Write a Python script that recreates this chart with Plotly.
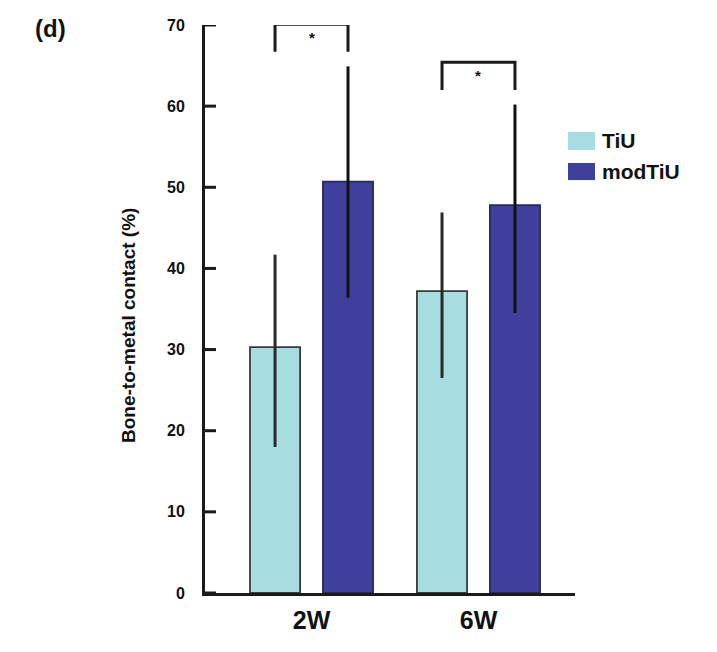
import plotly.graph_objects as go

categories = ["2W", "6W"]
series_names = ["TiU", "modTiU"]
tiu_values = [30.3, 37.2]
tiu_err_plus = [11.4, 9.7]
tiu_err_minus = [12.3, 10.7]
mod_values = [50.7, 47.8]
mod_err_plus = [14.2, 12.4]
mod_err_minus = [14.3, 13.3]
y_ticks = [0, 10, 20, 30, 40, 50, 60, 70]

C_TIU = "#A7DCE0"
C_MOD = "#3F3F9C"
BARGAP = 0.126
GROUPGAP = 0.313
FONT = "Liberation Sans, Arial, sans-serif"
PLOT_W = 717 - 205 - 142

fig = go.Figure()
for name, vals, ep, em, col, lc, ec in [
    (series_names[0], tiu_values, tiu_err_plus, tiu_err_minus, C_TIU, "#3a3a3a", "#2a2a2a"),
    (series_names[1], mod_values, mod_err_plus, mod_err_minus, C_MOD, "#2a2a5a", "#111111"),
]:
    fig.add_trace(go.Bar(
        x=categories, y=vals, name=name,
        marker=dict(color=col, line=dict(color=lc, width=1.8)),
        error_y=dict(type="data", array=ep, arrayminus=em, symmetric=False,
                     thickness=3, width=0, color=ec),
        showlegend=False,
    ))

slot = (1 - BARGAP) / 2
shapes = []
annotations = []
for i, cat in enumerate(categories):
    x0 = i - slot / 2
    x1 = i + slot / 2
    top = max(tiu_values[i] + tiu_err_plus[i], mod_values[i] + mod_err_plus[i]) + 5.2
    leg = top - 3.4
    shapes.append(dict(type="path", xref="x", yref="y",
                       path=f"M {x0},{leg} L {x0},{top} L {x1},{top} L {x1},{leg}",
                       line=dict(color="#1a1a1a", width=3)))
    annotations.append(dict(x=i, y=top - 1.6, xref="x", yref="y", text="<b>*</b>",
                            showarrow=False, font=dict(size=15, color="#111", family=FONT),
                            yanchor="middle"))

# inward tick stubs on the y axis
for t in y_ticks:
    shapes.append(dict(type="line", xref="paper", yref="y", x0=0, x1=11 / PLOT_W,
                       y0=t, y1=t, line=dict(color="#1a1a1a", width=3), layer="above"))

# legend (manual, large swatches)
leg_items = [(series_names[0], C_TIU, 0.8116, 0.780), (series_names[1], C_MOD, 0.757, 0.727)]
for name, col, ya, yb in leg_items:
    shapes.append(dict(type="rect", xref="paper", yref="paper", x0=0.981, x1=1.054,
                       y0=yb, y1=ya, fillcolor=col, line=dict(width=0)))
    annotations.append(dict(x=1.068, y=(ya + yb) / 2, xref="paper", yref="paper",
                            text=f"<b>{name}</b>", showarrow=False, xanchor="left",
                            yanchor="middle", font=dict(size=21, color="#111", family=FONT)))

annotations.append(dict(x=0, y=(593 - 28) / 568, xref="paper", yref="paper", xshift=-155,
                        text="<b>(d)</b>", showarrow=False, xanchor="center", yanchor="middle",
                        font=dict(size=24, color="#111", family=FONT)))
annotations.append(dict(x=0, y=(593 - 326) / 568, xref="paper", yref="paper", xshift=-77,
                        text="<b>Bone-to-metal contact (%)</b>", textangle=-90,
                        showarrow=False, xanchor="center", yanchor="middle",
                        font=dict(size=19, color="#111", family=FONT)))

fig.update_layout(
    width=717, height=652,
    margin=dict(l=205, r=142, t=25, b=59),
    paper_bgcolor="white", plot_bgcolor="white",
    barmode="group", bargap=BARGAP, bargroupgap=GROUPGAP,
    shapes=shapes, annotations=annotations,
    font=dict(family=FONT, color="#111"),
)
fig.update_xaxes(range=[-0.638, 1.578], showline=True, linewidth=3, linecolor="#1a1a1a",
                 ticks="", showgrid=False, zeroline=False,
                 tickfont=dict(size=25, family=FONT, color="#111", weight="bold"),
                 ticklabelstandoff=3)
fig.update_yaxes(range=[0, 70], tickvals=y_ticks, showline=True, linewidth=3,
                 linecolor="#1a1a1a", ticks="", showgrid=False, zeroline=False,
                 tickfont=dict(size=16, family=FONT, color="#111", weight="bold"),
                 ticklabelstandoff=14)

fig.write_html("out.html")
